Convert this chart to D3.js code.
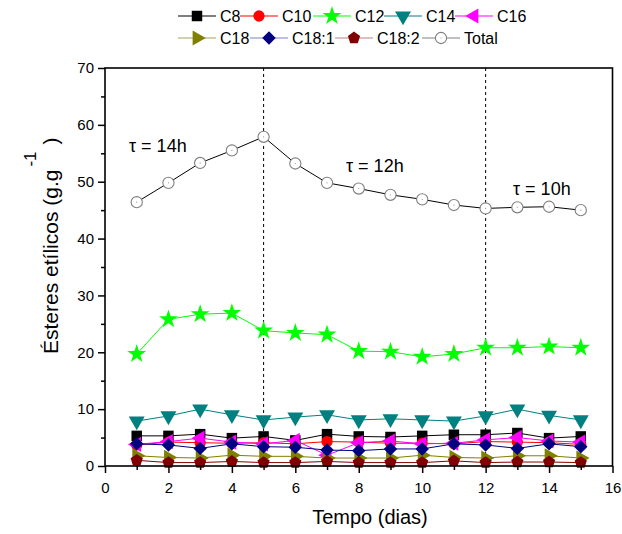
<!DOCTYPE html>
<html>
<head>
<meta charset="utf-8">
<script src="https://cdn.jsdelivr.net/npm/d3@7"></script>
<style>
  body { margin: 0; background: #fff; }
  text { font-family: "Liberation Sans", Arial, sans-serif; fill: #000; }
</style>
</head>
<body>
<div id="chart"></div>
<script>
'use strict';

// dias
const days = [1, 2, 3, 4, 5, 6, 7, 8, 9, 10, 11, 12, 13, 14, 15];

const c8    = [5.3, 5.3, 5.6, 4.9, 5.2, 4.5, 5.6, 5.2, 5.1, 5.3, 5.5, 5.5, 5.8, 4.9, 5.2];
const c10   = [3.7, 4.2, 4.1, 4.0, 4.1, 3.9, 4.3, 4.2, 4.0, 4.0, 3.9, 4.3, 4.2, 4.1, 3.8];
const c12   = [19.7, 25.8, 26.7, 26.9, 23.8, 23.4, 23.1, 20.2, 20.1, 19.2, 19.7, 20.8, 20.8, 21.0, 20.8];
const c14   = [7.9, 8.8, 10.0, 9.0, 8.1, 8.6, 9.0, 8.1, 8.3, 8.1, 7.9, 8.8, 10.0, 8.9, 8.1];
const c16   = [3.8, 4.3, 4.9, 4.2, 3.9, 4.5, 1.9, 4.1, 4.4, 3.9, 4.0, 4.6, 5.0, 4.4, 4.2];
const c18   = [1.8, 1.5, 1.4, 1.9, 1.7, 1.7, 1.4, 1.4, 1.4, 1.9, 1.5, 1.4, 1.8, 1.8, 1.4];
const c18_1 = [3.9, 3.7, 3.1, 3.9, 3.4, 3.3, 2.8, 2.7, 3.0, 3.0, 3.9, 3.7, 3.1, 3.9, 3.4];
const c18_2 = [1.0, 0.6, 0.6, 0.8, 0.6, 0.6, 0.8, 0.6, 0.6, 0.6, 0.9, 0.6, 0.7, 0.7, 0.6];
const total = [46.4, 49.8, 53.3, 55.5, 57.9, 53.2, 49.8, 48.8, 47.7, 46.9, 45.9, 45.3, 45.5, 45.6, 45.0];

const seriesNames = ['C8', 'C10', 'C12', 'C14', 'C16', 'C18', 'C18:1', 'C18:2', 'Total'];
const seriesValues = [c8, c10, c12, c14, c16, c18, c18_1, c18_2, total];

const xTicks = [0, 2, 4, 6, 8, 10, 12, 14, 16];
const yTicks = [0, 10, 20, 30, 40, 50, 60, 70];
const periodBreaks = [5, 12];
const periodLabels = ['\u03c4 = 14h', '\u03c4 = 12h', '\u03c4 = 10h'];

// estilo de cada serie
const styles = {
  'C8':    { line: '#000000', fill: '#000000', shape: 'square' },
  'C10':   { line: '#ff0000', fill: '#ff0000', shape: 'circle' },
  'C12':   { line: '#00ff00', fill: '#00ff00', shape: 'star' },
  'C14':   { line: '#008080', fill: '#008080', shape: 'down' },
  'C16':   { line: '#ff00ff', fill: '#ff00ff', shape: 'left' },
  'C18':   { line: '#808000', fill: '#808000', shape: 'right', legendLine: '#aaa060' },
  'C18:1': { line: '#000080', fill: '#000080', shape: 'diamond', legendLine: '#8080c8' },
  'C18:2': { line: '#800000', fill: '#800000', shape: 'pentagon', legendLine: '#c08080' },
  'Total': { line: '#000000', fill: '#ffffff', shape: 'open', legendLine: '#808080' }
};

const W = 622, H = 534;

const svg = d3.select('#chart').append('svg')
  .attr('width', W)
  .attr('height', H);

const x = d3.scaleLinear().domain([0, 16]).range([105, 612.5]);
const y = d3.scaleLinear().domain([0, 70]).range([466, 68]);

const pentagon = (r) => {
  let pts = d3.range(5).map(i => {
    let a = -Math.PI / 2 + i * 2 * Math.PI / 5;
    return [r * Math.cos(a), r * Math.sin(a)];
  });
  return 'M' + pts.join('L') + 'Z';
};

// desenha um marcador centrado em (cx, cy)
const drawMarker = (g, name, cx, cy) => {
  let s = styles[name];
  let m, rot = 0;
  if (s.shape === 'square') {
    m = g.append('path').attr('d', d3.symbol(d3.symbolSquare, 110)());
  } else if (s.shape === 'circle') {
    m = g.append('path').attr('d', d3.symbol(d3.symbolCircle, 100)());
  } else if (s.shape === 'star') {
    m = g.append('path').attr('d', d3.symbol(d3.symbolStar, 110)());
  } else if (s.shape === 'down') {
    m = g.append('path').attr('d', d3.symbol(d3.symbolTriangle, 110)());
    rot = 180;
  } else if (s.shape === 'left') {
    m = g.append('path').attr('d', d3.symbol(d3.symbolTriangle, 100)());
    rot = -90;
  } else if (s.shape === 'right') {
    m = g.append('path').attr('d', d3.symbol(d3.symbolTriangle, 100)());
    rot = 90;
  } else if (s.shape === 'diamond') {
    m = g.append('path').attr('d', d3.symbol(d3.symbolSquare, 90)());
    rot = 45;
  } else if (s.shape === 'pentagon') {
    m = g.append('path').attr('d', pentagon(6.4));
  } else {
    m = g.append('circle').attr('r', 5.6);
  }
  m.attr('transform', 'translate(' + cx + ',' + cy + ') rotate(' + rot + ')');
  if (s.shape === 'open') {
    m.attr('fill', '#fff').attr('stroke', '#808080').attr('stroke-width', 1.1);
    g.append('circle').attr('cx', cx).attr('cy', cy).attr('r', 0.6).attr('fill', '#999');
  } else {
    m.attr('fill', s.fill);
  }
};

// linhas tracejadas de mudanca de tempo de residencia
svg.append('g').selectAll('line')
  .data(periodBreaks)
  .enter().append('line')
    .attr('x1', d => x(d)).attr('x2', d => x(d))
    .attr('y1', y(70)).attr('y2', y(0))
    .attr('stroke', '#000')
    .attr('stroke-width', 1)
    .attr('stroke-dasharray', '3,3');

// series
const line = d3.line()
  .x((d, i) => x(days[i]))
  .y(d => y(d));

seriesNames.forEach((name, k) => {
  let g = svg.append('g').attr('class', 'series');
  g.append('path')
    .datum(seriesValues[k])
    .attr('d', line)
    .attr('fill', 'none')
    .attr('stroke', styles[name].line)
    .attr('stroke-width', 1);
  seriesValues[k].forEach((v, i) => drawMarker(g, name, x(days[i]), y(v)));
});

// eixos
const xAxis = d3.axisBottom(x).tickValues(xTicks).tickSize(7).tickPadding(9).tickFormat(d3.format('d'));
const xMinor = d3.axisBottom(x).tickValues(d3.range(1, 16, 2)).tickSize(4).tickFormat('');
const yAxis = d3.axisLeft(y).tickValues(yTicks).tickSize(7).tickPadding(4).tickFormat(d3.format('d'));
const yMinor = d3.axisLeft(y).tickValues(d3.range(5, 70, 10)).tickSize(4).tickFormat('');

const gx = svg.append('g').attr('transform', 'translate(0,' + y(0) + ')').call(xAxis);
svg.append('g').attr('transform', 'translate(0,' + y(0) + ')').call(xMinor);
const gy = svg.append('g').attr('transform', 'translate(' + x(0) + ',0)').call(yAxis);
svg.append('g').attr('transform', 'translate(' + x(0) + ',0)').call(yMinor);

svg.selectAll('.domain').remove();
svg.selectAll('.tick line').attr('stroke', '#000').attr('stroke-width', 1.5);
gx.selectAll('text').style('font-size', '15px').style('font-family', '"Liberation Sans", Arial, sans-serif');
gy.selectAll('text').style('font-size', '15px').style('font-family', '"Liberation Sans", Arial, sans-serif');

// moldura
svg.append('rect')
  .attr('x', x(0)).attr('y', y(70))
  .attr('width', x(16) - x(0)).attr('height', y(0) - y(70))
  .attr('fill', 'none')
  .attr('stroke', '#000')
  .attr('stroke-width', 1.6);

// rotulos dos eixos
svg.append('text')
  .attr('x', 370)
  .attr('y', 524)
  .attr('text-anchor', 'middle')
  .style('font-size', '20px')
  .text('Tempo (dias)');

const yl = svg.append('text')
  .attr('transform', 'translate(58,354) rotate(-90)')
  .attr('text-anchor', 'start')
  .style('font-size', '21px');
yl.append('tspan').text('Ésteres etílicos (g.g');
yl.append('tspan').attr('dy', -22).attr('dx', 3).style('font-size', '17px').text('-1');
yl.append('tspan').attr('dy', 22).attr('dx', 7).text(')');

// anotacoes
const annot = [[129, 152], [346, 172], [513, 195]];
svg.append('g').selectAll('text')
  .data(periodLabels)
  .enter().append('text')
    .attr('x', (d, i) => annot[i][0])
    .attr('y', (d, i) => annot[i][1])
    .style('font-size', '18px')
    .text(d => d);

// legenda
const legendPos = [
  [178, 16], [240, 16], [313, 16], [384, 16], [455, 16],
  [178, 38], [250, 38], [335, 38], [422, 38]
];
const legend = svg.append('g');
seriesNames.forEach((name, k) => {
  let lx = legendPos[k][0], ly = legendPos[k][1];
  let g = legend.append('g');
  g.append('line')
    .attr('x1', lx).attr('x2', lx + 38)
    .attr('y1', ly).attr('y2', ly)
    .attr('stroke', styles[name].legendLine || styles[name].line)
    .attr('stroke-width', 1.2);
  drawMarker(g, name, lx + 19, ly);
  g.append('text')
    .attr('x', lx + 42)
    .attr('y', ly + 5.5)
    .style('font-size', '16px')
    .text(name);
});
</script>
</body>
</html>
